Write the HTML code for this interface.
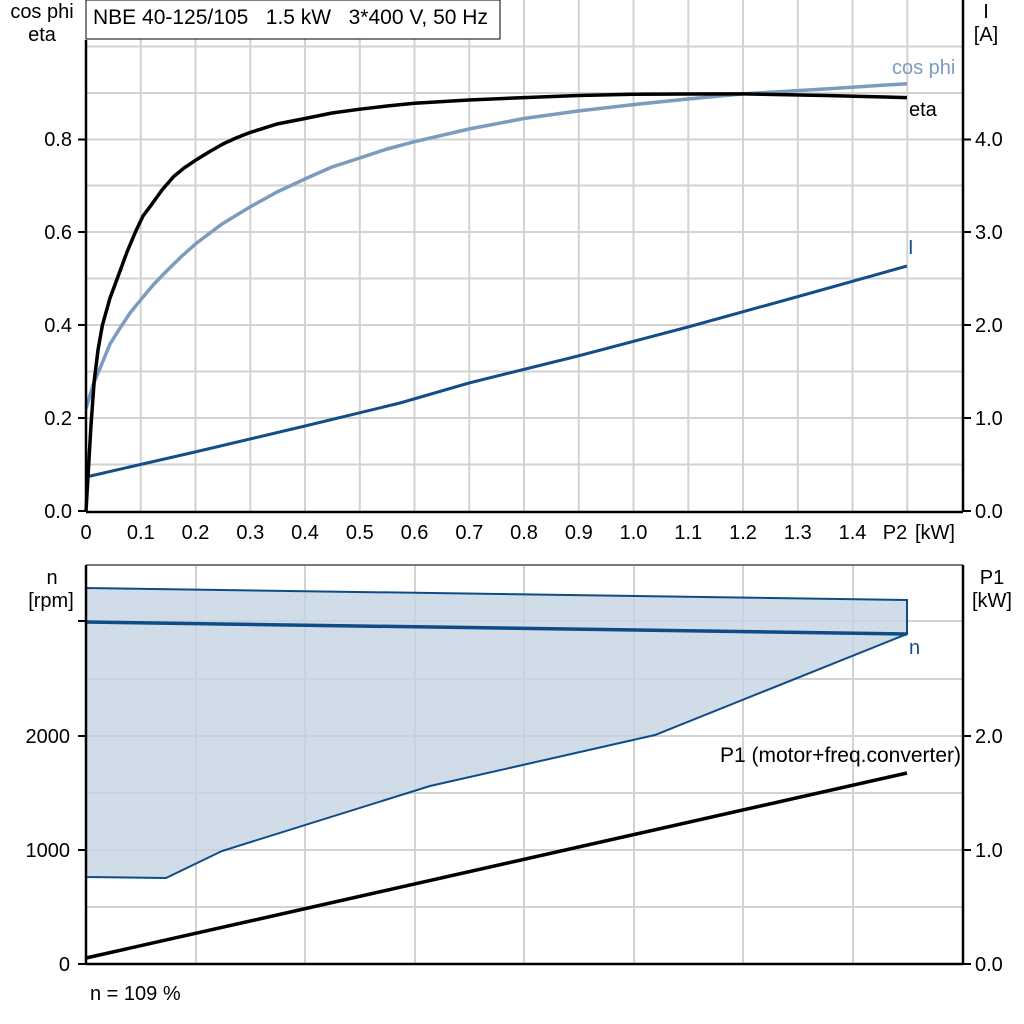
<!DOCTYPE html>
<html><head><meta charset="utf-8"><style>
html,body{margin:0;padding:0;background:#fff;}
svg{display:block;font-family:"Liberation Sans",Arial,sans-serif;}
text{white-space:pre;}
</style></head><body>
<svg width="1024" height="1024" viewBox="0 0 1024 1024" xmlns="http://www.w3.org/2000/svg">
<rect width="1024" height="1024" fill="#fff"/>
<g stroke="#d2d2d2" stroke-width="2">
<line x1="140.8" y1="0" x2="140.8" y2="511"/><line x1="195.5" y1="0" x2="195.5" y2="511"/>
<line x1="250.3" y1="0" x2="250.3" y2="511"/><line x1="305" y1="0" x2="305" y2="511"/>
<line x1="359.8" y1="0" x2="359.8" y2="511"/><line x1="414.5" y1="0" x2="414.5" y2="511"/>
<line x1="469.3" y1="0" x2="469.3" y2="511"/><line x1="524" y1="0" x2="524" y2="511"/>
<line x1="578.8" y1="0" x2="578.8" y2="511"/><line x1="633.5" y1="0" x2="633.5" y2="511"/>
<line x1="688.3" y1="0" x2="688.3" y2="511"/><line x1="743" y1="0" x2="743" y2="511"/>
<line x1="797.8" y1="0" x2="797.8" y2="511"/><line x1="852.5" y1="0" x2="852.5" y2="511"/>
<line x1="907.3" y1="0" x2="907.3" y2="511"/>
<line x1="86" y1="464.5" x2="963" y2="464.5"/><line x1="86" y1="418" x2="963" y2="418"/>
<line x1="86" y1="371.5" x2="963" y2="371.5"/><line x1="86" y1="325" x2="963" y2="325"/>
<line x1="86" y1="278.5" x2="963" y2="278.5"/><line x1="86" y1="232" x2="963" y2="232"/>
<line x1="86" y1="185.5" x2="963" y2="185.5"/><line x1="86" y1="139.5" x2="963" y2="139.5"/>
<line x1="86" y1="93" x2="963" y2="93"/><line x1="86" y1="46.5" x2="963" y2="46.5"/>
</g>
<rect x="86" y="0" width="414" height="39" fill="#fff" stroke="#000" stroke-width="1"/>
<text x="93" y="24" font-size="21" xml:space="preserve">NBE 40-125/105   1.5 kW   3*400 V, 50 Hz</text>
<polyline fill="none" stroke="#134e86" stroke-width="3" stroke-linejoin="round" points="86,477 195,452 305,426 400,403 469,383 578,356 688,327 800,296 907,266"/>
<polyline fill="none" stroke="#7a9cbf" stroke-width="3.5" stroke-linejoin="round" points="86,408.8 93,385 102.4,362.4 110,344 118.9,329.8 130,313 140.8,299.7 154,284 168.1,269.5 182,256 195.5,243.9 222,224 250.3,206.8 277,192 305,178.9 332,167 359.8,158 387,149 414.5,141.7 469,129 524,118.5 578,111 633.5,104.6 688,99 743,93.9 825,89 907,83.7"/>
<polyline fill="none" stroke="#000" stroke-width="3.5" stroke-linejoin="round" points="86,511 88.7,464.5 91,425 94.2,381 98,350 102.4,325.2 110,298 118.9,274.1 127,252 135.3,232.3 143,216 151.7,204.4 162,190 173.6,176.6 184,168 195.5,160.3 209,152 222.9,144 236,138 250.3,132.4 277,124 305,118.5 332,113 359.8,109.2 387,106 414.5,103.2 469,100 524,97.6 578,95.5 633.5,94.3 688,94 743,93.9 825,95.5 907,97.6"/>
<g stroke="#000" stroke-width="2.5">
<line x1="86" y1="40" x2="86" y2="512"/><line x1="86" y1="512" x2="963" y2="512"/>
<line x1="963" y1="0" x2="963" y2="512"/>
</g>
<g stroke="#000" stroke-width="2">
<line x1="78" y1="511" x2="86" y2="511"/><line x1="78" y1="418" x2="86" y2="418"/>
<line x1="78" y1="325" x2="86" y2="325"/><line x1="78" y1="232" x2="86" y2="232"/>
<line x1="78" y1="139.5" x2="86" y2="139.5"/>
<line x1="963" y1="511" x2="971" y2="511"/><line x1="963" y1="418" x2="971" y2="418"/>
<line x1="963" y1="325" x2="971" y2="325"/><line x1="963" y1="232" x2="971" y2="232"/>
<line x1="963" y1="139.5" x2="971" y2="139.5"/>
</g>
<g font-size="20" text-anchor="end">
<text x="72" y="518">0.0</text><text x="72" y="425">0.2</text><text x="72" y="332">0.4</text>
<text x="72" y="239">0.6</text><text x="72" y="146">0.8</text>
</g>
<g font-size="20">
<text x="975" y="518">0.0</text><text x="975" y="425">1.0</text><text x="975" y="332">2.0</text>
<text x="975" y="239">3.0</text><text x="975" y="146">4.0</text>
</g>
<g font-size="20" text-anchor="middle">
<text x="42" y="18">cos phi</text><text x="42" y="41">eta</text>
<text x="986" y="18">I</text><text x="986" y="41">[A]</text>
<text x="86" y="539">0</text><text x="140.8" y="539">0.1</text><text x="195.5" y="539">0.2</text>
<text x="250.3" y="539">0.3</text><text x="305" y="539">0.4</text><text x="359.8" y="539">0.5</text>
<text x="414.5" y="539">0.6</text><text x="469.3" y="539">0.7</text><text x="524" y="539">0.8</text>
<text x="578.8" y="539">0.9</text><text x="633.5" y="539">1.0</text><text x="688.3" y="539">1.1</text>
<text x="743" y="539">1.2</text><text x="797.8" y="539">1.3</text><text x="852.5" y="539">1.4</text>
<text x="895" y="539">P2</text><text x="935" y="539">[kW]</text>
</g>
<text x="892" y="74" font-size="20" fill="#7a9cbf">cos phi</text>
<text x="909" y="116" font-size="20">eta</text>
<text x="908" y="254" font-size="20" fill="#134e86">I</text>

<g stroke="#d2d2d2" stroke-width="2">
<line x1="196" y1="565" x2="196" y2="964"/><line x1="305" y1="565" x2="305" y2="964"/>
<line x1="415" y1="565" x2="415" y2="964"/><line x1="524" y1="565" x2="524" y2="964"/>
<line x1="634" y1="565" x2="634" y2="964"/><line x1="743" y1="565" x2="743" y2="964"/>
<line x1="853" y1="565" x2="853" y2="964"/>
<line x1="86" y1="907" x2="963" y2="907"/><line x1="86" y1="850" x2="963" y2="850"/>
<line x1="86" y1="793" x2="963" y2="793"/><line x1="86" y1="736" x2="963" y2="736"/>
<line x1="86" y1="679" x2="963" y2="679"/><line x1="86" y1="621" x2="963" y2="621"/>
</g>
<polygon fill="#c4d3e2" fill-opacity="0.8" stroke="#0f4c85" stroke-width="2" points="86,588 907,600 907,634 655,735 430,786 222,851 166,878 86,877"/>
<line x1="86" y1="622" x2="907" y2="634" stroke="#0f4c85" stroke-width="3.5"/>
<line x1="86" y1="958" x2="907" y2="773" stroke="#000" stroke-width="3.5"/>
<line x1="86" y1="565" x2="963" y2="565" stroke="#777" stroke-width="2"/>
<g stroke="#000" stroke-width="2.5">
<line x1="86" y1="565" x2="86" y2="964"/><line x1="86" y1="964" x2="963" y2="964"/>
<line x1="963" y1="565" x2="963" y2="964"/>
</g>
<g stroke="#000" stroke-width="2">
<line x1="78" y1="964" x2="86" y2="964"/><line x1="78" y1="850" x2="86" y2="850"/>
<line x1="78" y1="736" x2="86" y2="736"/><line x1="78" y1="621" x2="86" y2="621"/>
<line x1="963" y1="964" x2="971" y2="964"/><line x1="963" y1="850" x2="971" y2="850"/>
<line x1="963" y1="736" x2="971" y2="736"/>
</g>
<g font-size="20" text-anchor="end">
<text x="70" y="971">0</text><text x="70" y="857">1000</text><text x="70" y="743">2000</text>
</g>
<g font-size="20">
<text x="975" y="971">0.0</text><text x="975" y="857">1.0</text><text x="975" y="743">2.0</text>
<text x="90" y="1000">n = 109 %</text>
<text x="909" y="654" fill="#134e86">n</text>
<text x="961" y="762" text-anchor="end" font-size="21">P1 (motor+freq.converter)</text>
</g>
<g font-size="20" text-anchor="middle">
<text x="52" y="584">n</text><text x="51" y="607">[rpm]</text>
<text x="992" y="584">P1</text><text x="992" y="607">[kW]</text>
</g>
</svg>
</body></html>
